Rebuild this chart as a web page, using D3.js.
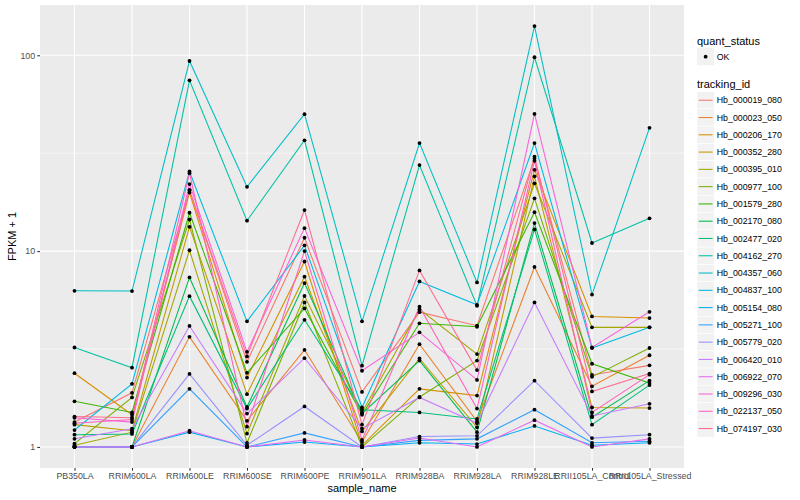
<!DOCTYPE html>
<html>
  <head>
    <title>FPKM</title>
    <style>
      body { margin: 0; background: #fff; }
      text { font-family: "Liberation Sans", Arial, sans-serif; }
    </style>
    <script src="https://d3js.org/d3.v7.min.js"></script>
  </head>
  <body>
    <div id="chart"></div>
    <script type="text/javascript">
      var samples = ["PB350LA", "RRIM600LA", "RRIM600LE", "RRIM600SE", "RRIM600PE", "RRIM901LA",
                     "RRIM928BA", "RRIM928LA", "RRIM928LE", "RRII105LA_Control", "RRII105LA_Stressed"];

      var trackingIds = ["Hb_000019_080", "Hb_000023_050", "Hb_000206_170", "Hb_000352_280", "Hb_000395_010",
                         "Hb_000977_100", "Hb_001579_280", "Hb_002170_080", "Hb_002477_020", "Hb_004162_270",
                         "Hb_004357_060", "Hb_004837_100", "Hb_005154_080", "Hb_005271_100", "Hb_005779_020",
                         "Hb_006420_010", "Hb_006922_070", "Hb_009296_030", "Hb_022137_050", "Hb_074197_030"];

      // ggplot default hue palette, 20 levels
      var colors = ["#F8766D", "#EA8331", "#D89000", "#C09B00", "#A3A500", "#7CAE00", "#39B600", "#00BB4E",
                    "#00BF7D", "#00C1A3", "#00BFC4", "#00BAE0", "#00B0F6", "#35A2FF", "#9590FF", "#C77CFF",
                    "#E76BF3", "#FA62DB", "#FF62BC", "#FF6C91"];

      // FPKM + 1, one row per tracking_id, columns in sample order
      var fpkm = [
        [1.34, 1.89, 20.5, 2.72, 11.7, 1.91, 4.88, 4.16, 29.7, 2.33, 2.61],
        [1.0, 1.0, 3.65, 1.36, 3.13, 1.06, 3.35, 1.35, 8.3, 2.04, 2.94],
        [2.38, 1.46, 19.9, 2.26, 8.85, 1.02, 1.98, 1.83, 26, 4.64, 4.55],
        [1.30, 1.21, 13.3, 1.86, 7.4, 1.2, 2.83, 1.26, 24.1, 1.59, 1.58],
        [1.02, 1.19, 10.1, 1.17, 5.9, 1.5, 5.04, 2.98, 22.2, 4.08, 4.08],
        [1.04, 1.79, 14.5, 1.05, 5.47, 1.0, 1.8, 2.76, 18.6, 2.28, 3.2],
        [1.71, 1.5, 15.7, 2.39, 5.1, 1.46, 4.28, 4.11, 15.8, 2.66, 2.12],
        [1.0, 1.0, 7.34, 1.6, 6.87, 1.48, 2.76, 1.19, 13.9, 1.42, 2.18],
        [1.155, 1.165, 5.89, 1.57, 4.46, 1.55, 1.5, 1.39, 12.9, 1.30, 2.07],
        [3.22, 2.54, 74.5, 14.3, 36.8, 2.6, 27.5, 5.26, 97.7, 11, 14.7],
        [6.27, 6.25, 93.5, 21.3, 50, 4.38, 35.6, 6.92, 141, 6.0, 42.6],
        [1.22, 2.1, 25.5, 4.38, 10.7, 1.59, 7.0, 5.32, 35.6, 3.2, 4.08],
        [1.0, 1.0, 1.19, 1.0, 1.06, 1.0, 1.05, 1.035, 1.28, 1.02, 1.05],
        [1.0, 1.0, 1.98, 1.0, 1.18, 1.0, 1.08, 1.1, 1.55, 1.05, 1.07],
        [1.0, 1.0, 2.36, 1.02, 1.61, 1.0, 1.13, 1.14, 2.18, 1.11, 1.155],
        [1.1, 1.24, 4.15, 1.48, 2.84, 1.24, 1.79, 1.32, 5.47, 1.44, 1.66],
        [1.0, 1.0, 1.21, 1.0, 1.085, 1.0, 1.11, 1.0, 1.37, 1.0, 1.1],
        [1.41, 1.34, 22, 3.06, 13.1, 2.45, 3.85, 2.2, 50.2, 3.22, 4.9],
        [1.32, 1.38, 25.0, 1.27, 10.0, 1.085, 5.2, 1.57, 28.9, 1.5, 2.34],
        [1.43, 1.41, 20.5, 2.9, 16.2, 1.3, 7.97, 2.47, 30.4, 1.92, 2.37]
      ];

      var yTicks = [1, 10, 100];
      var yMinor = [Math.sqrt(10), Math.sqrt(1000)];

      var width = 800, height = 500;
      var panel = {left: 40, right: 684, top: 5, bottom: 468};

      var svg = d3.select("#chart").append("svg")
          .attr("width", width)
          .attr("height", height);

      // log domain with ggplot's 5% expansion
      var all = [].concat.apply([], fpkm);
      var lo = Math.log10(d3.min(all)), hi = Math.log10(d3.max(all));
      var pad = (hi - lo) * 0.05;

      var y = d3.scaleLog()
          .domain([Math.pow(10, lo - pad), Math.pow(10, hi + pad)])
          .range([panel.bottom, panel.top]);

      var step = (panel.right - panel.left) / (samples.length - 1 + 1.2);
      var x = d3.scalePoint()
          .domain(samples)
          .range([panel.left + 0.6 * step, panel.right - 0.6 * step]);

      svg.append("rect")
          .attr("x", panel.left).attr("y", panel.top)
          .attr("width", panel.right - panel.left)
          .attr("height", panel.bottom - panel.top)
          .attr("fill", "#EBEBEB");

      svg.selectAll(".minor").data(yMinor).enter().append("line")
          .attr("x1", panel.left).attr("x2", panel.right)
          .attr("y1", function(d){return y(d);}).attr("y2", function(d){return y(d);})
          .attr("stroke", "#fff").attr("stroke-width", 0.55);

      svg.selectAll(".ymajor").data(yTicks).enter().append("line")
          .attr("x1", panel.left).attr("x2", panel.right)
          .attr("y1", function(d){return y(d);}).attr("y2", function(d){return y(d);})
          .attr("stroke", "#fff").attr("stroke-width", 1.1);

      svg.selectAll(".xmajor").data(samples).enter().append("line")
          .attr("x1", function(d){return x(d);}).attr("x2", function(d){return x(d);})
          .attr("y1", panel.top).attr("y2", panel.bottom)
          .attr("stroke", "#fff").attr("stroke-width", 1.1);

      var line = d3.line()
          .x(function(d, i){return x(samples[i]);})
          .y(function(d){return y(d);});

      svg.selectAll(".series").data(fpkm).enter().append("path")
          .attr("d", line)
          .attr("fill", "none")
          .attr("stroke", function(d, i){return colors[i];})
          .attr("stroke-width", 1.07);

      fpkm.forEach(function(row) {
        svg.selectAll(null).data(row).enter().append("circle")
            .attr("cx", function(d, i){return x(samples[i]);})
            .attr("cy", function(d){return y(d);})
            .attr("r", 1.9)
            .attr("fill", "#000");
      });

      // axes
      var yAxis = d3.axisLeft(y).tickValues(yTicks).tickSize(2.7).tickPadding(2.2)
          .tickFormat(d3.format("d"));
      var gy = svg.append("g").attr("transform", "translate(" + panel.left + ",0)").call(yAxis);
      gy.select(".domain").remove();
      gy.selectAll("line").attr("stroke", "#333").attr("stroke-width", 1.07);
      gy.selectAll("text").attr("fill", "#4D4D4D").style("font-size", "8.8px")
          .style("font-family", "'Liberation Sans', Arial, sans-serif");

      var xAxis = d3.axisBottom(x).tickSize(2.7).tickPadding(2.2);
      var gx = svg.append("g").attr("transform", "translate(0," + panel.bottom + ")").call(xAxis);
      gx.select(".domain").remove();
      gx.selectAll("line").attr("stroke", "#333").attr("stroke-width", 1.07);
      gx.selectAll("text").attr("fill", "#4D4D4D").style("font-size", "8.8px")
          .style("font-family", "'Liberation Sans', Arial, sans-serif");

      svg.append("text")
          .attr("x", (panel.left + panel.right) / 2).attr("y", 492)
          .attr("text-anchor", "middle").style("font-size", "11px")
          .text("sample_name");

      svg.append("text")
          .attr("transform", "translate(16," + ((panel.top + panel.bottom) / 2) + ") rotate(-90)")
          .attr("text-anchor", "middle").style("font-size", "11px")
          .text("FPKM + 1");

      // legends
      var lx = 697, key = 17.28;
      svg.append("text").attr("x", lx).attr("y", 44.5).style("font-size", "11px").text("quant_status");
      svg.append("rect").attr("x", lx).attr("y", 48).attr("width", key).attr("height", key)
          .attr("fill", "#F2F2F2");
      svg.append("circle").attr("cx", lx + key / 2).attr("cy", 48 + key / 2).attr("r", 1.9).attr("fill", "#000");
      svg.append("text").attr("x", lx + key + 2.5).attr("y", 48 + key / 2 + 3.1)
          .style("font-size", "8.8px").text("OK");

      svg.append("text").attr("x", lx).attr("y", 88).style("font-size", "11px").text("tracking_id");
      var k0 = 91.6;
      var items = svg.selectAll(".leg").data(trackingIds).enter().append("g")
          .attr("transform", function(d, i){return "translate(" + lx + "," + (k0 + i * key) + ")";});
      items.append("rect").attr("width", key).attr("height", key).attr("fill", "#F2F2F2")
          .attr("stroke", "#fff").attr("stroke-width", 0.6);
      items.append("line").attr("x1", 1.7).attr("x2", key - 1.7)
          .attr("y1", key / 2).attr("y2", key / 2)
          .attr("stroke", function(d, i){return colors[i];}).attr("stroke-width", 1.07);
      items.append("text").attr("x", key + 2.5).attr("y", key / 2 + 3.1)
          .style("font-size", "8.8px").text(function(d){return d;});
    </script>
  </body>
</html>
